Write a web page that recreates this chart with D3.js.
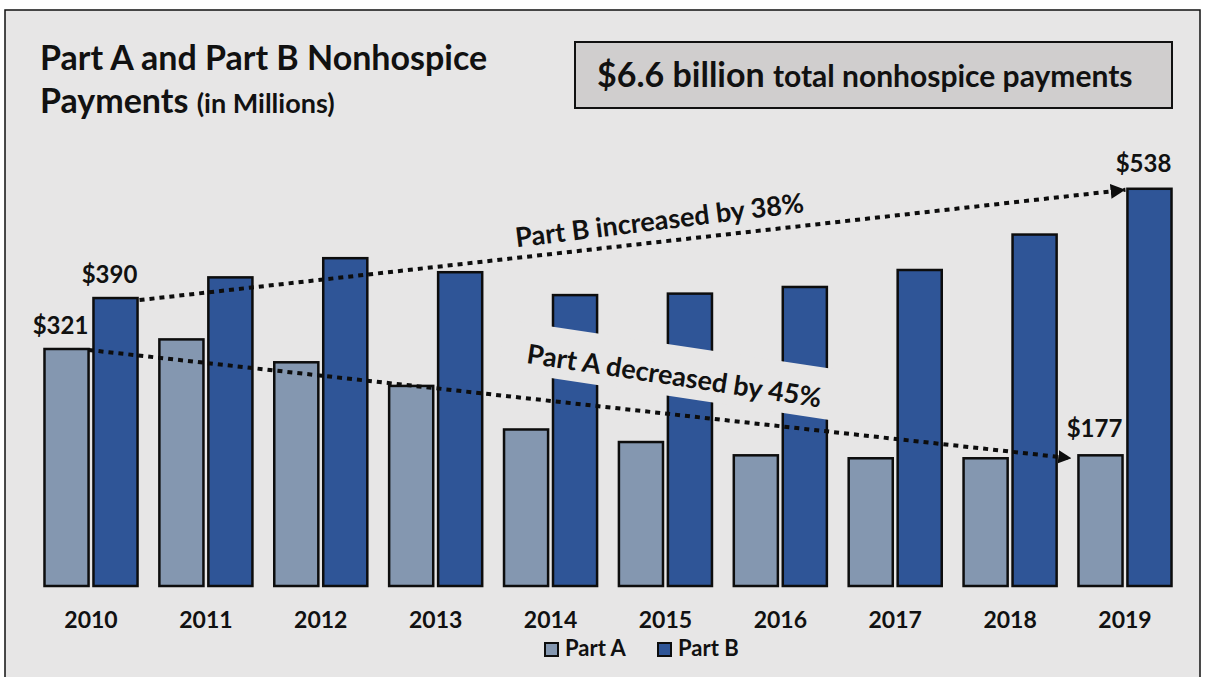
<html>
<head>
<script src="https://d3js.org/d3.v7.min.js"></script>
<style>
    body { margin: 0; background: #fff; }
    svg { display: block; font-family: Lato, "Open Sans", sans-serif; font-weight: bold; }
</style>
</head>
<body>
<svg id='chart' width=1206 height=677></svg>
<script>

    let years = ['2010','2011','2012','2013','2014','2015','2016','2017','2018','2019'];
    let series = ['Part A', 'Part B'];
    let partA = [321, 334, 303, 271, 212, 195, 177, 173, 173, 177];
    let partB = [390, 418, 444, 425, 394, 396, 405, 428, 476, 538];
    let colors = { 'Part A': '#8497b0', 'Part B': '#2f5597' };

    let svg = d3.select('#chart');

    // chart frame
    svg.append('rect')
        .attr('x', 5).attr('y', 10)
        .attr('width', 1195).attr('height', 690)
        .attr('fill', '#e7e6e6')
        .attr('stroke', '#111').attr('stroke-width', 1.5);

    let x = d3.scaleBand().domain(years).range([33, 1183]).paddingInner(0.19).paddingOuter(0.1);
    let xs = d3.scaleBand().domain(series).range([0, x.bandwidth()]).paddingInner(0.1);
    let y = d3.scaleLinear().domain([0, 600]).range([586, 143]);

    let rows = years.map((yr, i) => ({ year: yr, 'Part A': partA[i], 'Part B': partB[i] }));

    let g = svg.append('g');

    // bars
    let groups = g.selectAll('.grp')
        .data(rows)
      .enter()
        .append('g')
        .attr('class', 'grp')
        .attr('transform', d => 'translate(' + x(d.year) + ',0)');

    groups.selectAll('rect')
        .data(d => series.map(s => ({ key: s, value: d[s] })))
      .enter()
        .append('rect')
        .attr('x', d => xs(d.key))
        .attr('y', d => y(d.value))
        .attr('width', xs.bandwidth())
        .attr('height', d => y(0) - y(d.value))
        .attr('fill', d => colors[d.key])
        .attr('stroke', '#0d0d0d')
        .attr('stroke-width', 2.5);

    // x axis labels
    let xAxis = d3.axisBottom(x).tickSize(0).tickPadding(0);
    let ax = svg.append('g')
        .attr('transform', 'translate(0,' + 612 + ')')
        .call(xAxis);
    ax.select('.domain').remove();
    ax.selectAll('text')
        .attr('font-size', 23)
        .attr('font-family', 'Lato, sans-serif')
        .attr('font-weight', 'bold')
        .attr('fill', '#111');

    // trend arrows
    let defs = svg.append('defs');
    [['arrowB', 3.7], ['arrowA', 3.3]].forEach(m => {
        defs.append('marker')
            .attr('id', m[0])
            .attr('viewBox', '0 0 10 10')
            .attr('refX', 10).attr('refY', 5)
            .attr('markerWidth', m[1]).attr('markerHeight', m[1])
            .attr('markerUnits', 'strokeWidth')
            .attr('orient', 'auto')
          .append('path')
            .attr('d', 'M0,0 L10,5 L0,10 z')
            .attr('fill', '#0d0d0d');
    });

    let first = 0, last = years.length - 1;
    let trends = [
        { label: 'Part B increased by 38%', marker: 'arrowB',
          x1: x(years[first]) + xs('Part B') + xs.bandwidth() + 2, y1: y(partB[first]) + 2,
          x2: x(years[last]) + xs('Part B') - 2, y2: y(partB[last]) + 1,
          t: 0.53, off: -12, tilt: -0.6, bg: false },
        { label: 'Part A decreased by 45%', marker: 'arrowA',
          x1: x(years[first]) + xs('Part A') + xs.bandwidth(), y1: y(partA[first]) + 1,
          x2: x(years[last]) + xs('Part A') - 7, y2: y(partA[last]) + 3,
          t: 0.59, off: -29, tilt: 2.3, bg: true }
    ];

    trends.forEach(d => {
        let ang = Math.atan2(d.y2 - d.y1, d.x2 - d.x1) * 180 / Math.PI + d.tilt;
        let cx = d.x1 + (d.x2 - d.x1) * d.t, cy = d.y1 + (d.y2 - d.y1) * d.t;
        let tg = svg.append('g').attr('transform', 'translate(' + cx + ',' + cy + ') rotate(' + ang + ')');
        if (d.bg) {
            tg.append('rect')
                .attr('x', -175).attr('y', d.off - 40)
                .attr('width', 350).attr('height', 51)
                .attr('fill', '#e7e6e6');
        }
        svg.append('line')
            .attr('x1', d.x1).attr('y1', d.y1)
            .attr('x2', d.x2).attr('y2', d.y2)
            .attr('stroke', '#0d0d0d')
            .attr('stroke-width', 4)
            .attr('stroke-dasharray', '5 5')
            .attr('marker-end', 'url(#' + d.marker + ')');
        tg.append('text')
            .attr('y', d.off)
            .attr('text-anchor', 'middle')
            .attr('font-size', 27)
            .attr('fill', '#111')
            .text(d.label);
    });

    // value labels
    let valueLabels = [
        { s: 'Part A', i: first, v: partA[first], gap: 15 },
        { s: 'Part B', i: first, v: partB[first], gap: 15 },
        { s: 'Part A', i: last, v: partA[last], gap: 18 },
        { s: 'Part B', i: last, v: partB[last], gap: 17 }
    ];
    svg.selectAll('.vlab')
        .data(valueLabels)
      .enter()
        .append('text')
        .attr('class', 'vlab')
        .attr('x', d => x(years[d.i]) + xs(d.s) + xs.bandwidth() / 2 - 6)
        .attr('y', d => y(d.v) - d.gap)
        .attr('text-anchor', 'middle')
        .attr('font-size', 24)
        .attr('fill', '#111')
        .text(d => '$' + d.v);

    // title
    let title = svg.append('text').attr('x', 40).attr('y', 70).attr('font-size', 34).attr('fill', '#111');
    title.text('Part A and Part B Nonhospice');
    let t2 = svg.append('text').attr('x', 40).attr('y', 113).attr('font-size', 34).attr('fill', '#111');
    t2.append('tspan').text('Payments ');
    t2.append('tspan').attr('font-size', 27).text('(in Millions)');

    // total box
    svg.append('rect')
        .attr('x', 575).attr('y', 42)
        .attr('width', 597).attr('height', 66)
        .attr('fill', '#d0cece')
        .attr('stroke', '#111').attr('stroke-width', 2);
    let bt = svg.append('text').attr('x', 597).attr('y', 87).attr('fill', '#111');
    bt.append('tspan').attr('font-size', 34).text('$6.6 billion ');
    bt.append('tspan').attr('font-size', 30).text('total nonhospice payments');

    // legend
    let lg = svg.append('g').attr('transform', 'translate(545,643)');
    let li = lg.selectAll('g')
        .data(series)
      .enter()
        .append('g')
        .attr('transform', (d, i) => 'translate(' + (i * 113) + ',0)');
    li.append('rect')
        .attr('width', 13).attr('height', 13)
        .attr('fill', d => colors[d])
        .attr('stroke', '#0d0d0d').attr('stroke-width', 2);
    li.append('text')
        .attr('x', 20).attr('y', 13)
        .attr('font-size', 22)
        .attr('fill', '#111')
        .text(d => d);

</script>
</body>
</html>
